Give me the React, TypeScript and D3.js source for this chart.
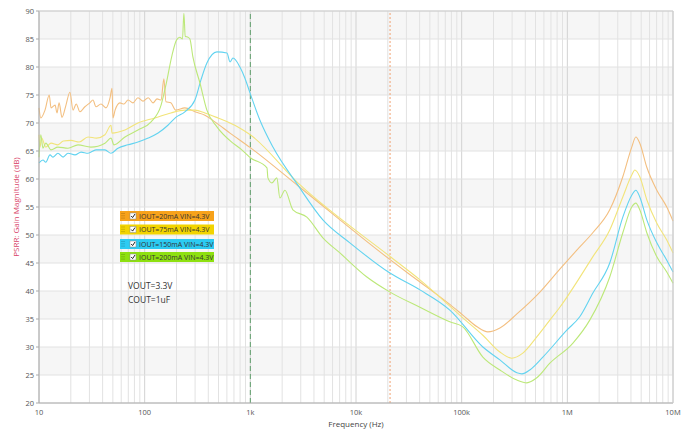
import React, { useEffect, useRef } from "react";
import * as d3 from "d3";

const W = 690, H = 433;
const margin = { left: 39, right: 17, top: 11, bottom: 30 };

const yTicks = [20, 25, 30, 35, 40, 45, 50, 55, 60, 65, 70, 75, 80, 85, 90];
const xTickVals = [10, 100, 1000, 10000, 100000, 1000000, 10000000];
const xTickLabels = ["10", "100", "1k", "10k", "100k", "1M", "10M"];

const seriesNames = ["IOUT=20mA VIN=4.3V", "IOUT=75mA VIN=4.3V", "IOUT=150mA VIN=4.3V", "IOUT=200mA VIN=4.3V"];
const legendColors = ["#f7a21b", "#f2d400", "#2ccbf2", "#8ee010"];
const lineColors = ["#f3bf80", "#f2e47a", "#62d3f0", "#bce879"];
const notes = ["VOUT=3.3V", "COUT=1uF"];

const iout20: [number, number][] = [
  [10, 72.7], [10.4, 70.9], [11.4, 72.3], [12.5, 75], [13, 72.7], [14.2, 73.2], [14.8, 71.8], [15.5, 73.6],
  [16.5, 71], [18, 73.2], [19.6, 75.5], [21, 72.3], [22.5, 73.4], [24.4, 72], [27.2, 72.9], [30.3, 73.6],
  [32.4, 74.1], [34.6, 72.9], [38.6, 73.4], [43, 72.7], [47, 74.5], [49.1, 76.2], [50.1, 70.9], [52.5, 72.3],
  [58.3, 73.6], [63.7, 73.4], [69.6, 74.1], [77.5, 73.6], [86.4, 74.5], [96.5, 73.9], [108, 74.5], [120, 73.6],
  [131, 74.3], [143, 74.1], [152, 77.9], [159, 73.8], [177, 73.6], [197, 72.3], [240, 72.7], [299, 72],
  [372, 71.4], [462, 70.2], [642, 68.2], [1000, 65.6], [2820, 58.8], [21000, 45.6], [37700, 42], [77300, 37.6],
  [102600, 35.7], [140000, 33.6], [177000, 32.7], [230000, 33.4], [333000, 35.9], [550000, 39.8],
  [849000, 43.9], [1230000, 47.3], [1740000, 50.4], [2520000, 54.5], [3350000, 60.4], [4070000, 65.7],
  [4450000, 67.5], [4850000, 66.4], [5650000, 62.1], [7030000, 58], [8730000, 55], [10000000, 52.5],
];

const iout75: [number, number][] = [
  [10, 67.9], [10.2, 65.7], [10.6, 67.3], [11.6, 65.7], [13, 66.4], [15.1, 66.1], [17, 66.8], [20.1, 66.9],
  [24, 66.6], [29.1, 67.5], [35, 67.3], [42.1, 67.9], [48, 69.6], [49.1, 68.2], [65.1, 68.75], [86.4, 70],
  [125, 70.9], [177, 71.8], [240, 72.3], [299, 72.3], [372, 71.8], [494, 70.9], [763, 69.3], [1000, 67.9],
  [2820, 59.3], [21900, 45.9], [40300, 42], [77300, 37.3], [102600, 35.2], [158700, 32.1], [230000, 29.1],
  [298500, 28], [379000, 28.9], [514000, 31.8], [683000, 34.8], [849000, 37.1], [1740000, 46.1],
  [2520000, 50.9], [3350000, 56.8], [4070000, 60.7], [4350000, 61.6], [4850000, 60.4], [5650000, 56.3],
  [7030000, 52.1], [8730000, 49.1], [10000000, 46.8],
];

const iout150: [number, number][] = [
  [10, 62.9], [10.9, 63.4], [11.6, 63], [12.7, 64.3], [13.6, 63.9], [15.1, 64.6], [16.9, 63.9], [18.8, 64.6],
  [21.9, 64.3], [25, 64.8], [29.1, 64.6], [34.6, 65.2], [42.1, 65.2], [48, 64.6], [55.9, 65.5], [69.6, 66.1],
  [86.4, 66.6], [108, 67.3], [134, 68.2], [166, 69.6], [197, 71], [240, 72], [299, 74.1], [341, 77.7],
  [388, 80.7], [483, 82.7], [601, 82.5], [642, 80.9], [685, 81.6], [797, 80], [889, 78], [1000, 75.2],
  [1233, 70.5], [1637, 65.7], [2820, 58.9], [4860, 52.7], [8750, 48.6], [20940, 43.2], [40270, 40.2],
  [77270, 36.6], [158700, 30], [230000, 27.7], [333000, 25.4], [371500, 25.2], [441000, 25.9], [587000, 28.2],
  [989000, 33], [1310000, 35.4], [1740000, 39.6], [2520000, 45], [3350000, 53.2], [4070000, 57.1],
  [4450000, 58], [4850000, 56.8], [5650000, 52.7], [7030000, 48.6], [8730000, 45.5], [10000000, 43.4],
];

const iout200: [number, number][] = [
  [10, 63.9], [10.4, 67.9], [10.9, 65.5], [11.6, 66.4], [13, 65.2], [15.1, 65.7], [18.8, 65.5], [23.4, 66.1],
  [31, 65.7], [42.1, 66.4], [48, 67.3], [51.2, 66.1], [65.1, 67.5], [86.4, 68.75], [115, 70.2], [143, 73.2],
  [159, 76.8], [181, 82], [200, 84.8], [215, 85.3], [228, 85], [235, 89.6], [242, 85.5], [258, 85.3], [268, 85],
  [286, 81.8], [334, 77.1], [388, 72.3], [483, 69.3], [685, 66.4], [797, 65.5], [1000, 63.8], [1437, 62],
  [1467, 60.2], [1600, 59.3], [1783, 60.2], [1905, 56.6], [2125, 58], [2528, 54.5], [3428, 53.2], [4860, 49.5],
  [7040, 46.8], [12680, 42.5], [21000, 39.8], [40270, 37.1], [77270, 34.5], [102600, 33.6], [158700, 28.2],
  [230000, 25.9], [333000, 24.1], [414000, 23.6], [514000, 24.5], [683000, 27.1], [1130000, 30.7],
  [1630000, 34.8], [2520000, 42.5], [3350000, 50.4], [4070000, 55], [4450000, 55.7], [4850000, 54.5],
  [5650000, 50.4], [7030000, 46.1], [8730000, 43.4], [10000000, 41.4],
];

const allSeries = [iout20, iout75, iout150, iout200];
const markerGreen = 1000;
const markerOrange = 21000;

export default function App() {
  const ref = useRef<SVGSVGElement>(null);
  useEffect(() => {
    const svg = d3.select(ref.current);
    svg.selectAll("*").remove();
    const x = d3.scaleLog().domain([10, 1e7]).range([margin.left, W - margin.right]);
    const y = d3.scaleLinear().domain([20, 90]).range([H - margin.bottom, margin.top]);
    const font = "'Open Sans', 'Noto Sans', sans-serif";

    const g = svg.append("g");
    for (let v = 25; v < 90; v += 10) {
      g.append("rect").attr("x", x(10)).attr("width", x(1e7) - x(10))
        .attr("y", y(v + 5)).attr("height", y(v) - y(v + 5)).attr("fill", "#f6f6f6");
    }
    const minor: number[] = [];
    for (let e = 1; e < 7; e++) for (let m = 2; m <= 9; m++) minor.push(m * Math.pow(10, e));
    g.selectAll(".vmin").data(minor).enter().append("line")
      .attr("x1", (d) => x(d)).attr("x2", (d) => x(d)).attr("y1", y(20)).attr("y2", y(90))
      .attr("stroke", "#e2e2e2").attr("stroke-width", 1);
    g.selectAll(".vmaj").data(xTickVals).enter().append("line")
      .attr("x1", (d) => x(d)).attr("x2", (d) => x(d)).attr("y1", y(20)).attr("y2", y(90))
      .attr("stroke", "#d2d2d2").attr("stroke-width", 1);
    g.selectAll(".h").data(yTicks).enter().append("line")
      .attr("x1", x(10)).attr("x2", x(1e7)).attr("y1", (d) => y(d)).attr("y2", (d) => y(d))
      .attr("stroke", "#e2e2e2");

    g.append("line").attr("x1", x(markerGreen)).attr("x2", x(markerGreen)).attr("y1", y(20)).attr("y2", y(90))
      .attr("stroke", "#5e9e6a").attr("stroke-dasharray", "5,3").attr("stroke-width", 1);
    g.append("line").attr("x1", x(markerOrange)).attr("x2", x(markerOrange)).attr("y1", y(20)).attr("y2", y(90))
      .attr("stroke", "#f0a070").attr("stroke-dasharray", "2,2").attr("stroke-width", 1);

    const line = d3.line<[number, number]>().x((d) => x(d[0])).y((d) => y(d[1])).curve(d3.curveMonotoneX);
    allSeries.forEach((s, i) => {
      svg.append("path").attr("d", line(s) as string).attr("fill", "none")
        .attr("stroke", lineColors[i]).attr("stroke-width", 1.1);
    });

    svg.append("line").attr("x1", x(10)).attr("x2", x(10)).attr("y1", y(20)).attr("y2", y(90)).attr("stroke", "#aaa");
    svg.append("line").attr("x1", x(10)).attr("x2", x(1e7)).attr("y1", y(20)).attr("y2", y(20)).attr("stroke", "#aaa");
    svg.append("line").attr("x1", x(10)).attr("x2", x(1e7)).attr("y1", y(90)).attr("y2", y(90)).attr("stroke", "#ccc");
    svg.append("line").attr("x1", x(1e7)).attr("x2", x(1e7)).attr("y1", y(20)).attr("y2", y(90)).attr("stroke", "#ccc");

    yTicks.forEach((v) => {
      svg.append("line").attr("x1", x(10) - 3).attr("x2", x(10)).attr("y1", y(v)).attr("y2", y(v)).attr("stroke", "#aaa");
      svg.append("text").attr("x", x(10) - 5).attr("y", y(v) + 2.5).attr("text-anchor", "end")
        .attr("font-size", 7.5).attr("font-family", font).attr("fill", "#555").text(String(v));
    });
    xTickVals.forEach((v, i) => {
      svg.append("text").attr("x", x(v)).attr("y", y(20) + 12).attr("text-anchor", "middle")
        .attr("font-size", 7.5).attr("font-family", font).attr("fill", "#555").text(xTickLabels[i]);
    });
    svg.append("text").attr("x", (x(10) + x(1e7)) / 2).attr("y", 427).attr("text-anchor", "middle")
      .attr("font-size", 8).attr("font-family", font).attr("fill", "#444").text("Frequency (Hz)");
    svg.append("text").attr("transform", `translate(19,${(y(20) + y(90)) / 2}) rotate(-90)`)
      .attr("text-anchor", "middle").attr("font-size", 8).attr("font-family", font).attr("fill", "#d9446a")
      .text("PSRR: Gain Magnitude (dB)");

    const lx = 120, lw = 94, lh = 10;
    const lys = [211, 224.5, 239, 252];
    seriesNames.forEach((name, i) => {
      const ly = lys[i];
      const lg = svg.append("g");
      lg.append("rect").attr("x", lx).attr("y", ly).attr("width", lw).attr("height", lh).attr("fill", legendColors[i]);
      for (let r = 0; r < 3; r++) for (let c = 0; c < 2; c++) {
        lg.append("rect").attr("x", lx + 1.5 + c * 2).attr("y", ly + 2 + r * 2.3).attr("width", 1).attr("height", 1)
          .attr("fill", "rgba(0,0,0,0.3)");
      }
      lg.append("rect").attr("x", lx + 10).attr("y", ly + 2).attr("width", 6).attr("height", 6)
        .attr("fill", "#fff").attr("stroke", "#888").attr("stroke-width", 0.5);
      lg.append("path").attr("d", `M${lx + 11.2},${ly + 5} L${lx + 12.6},${ly + 6.6} L${lx + 15},${ly + 3}`)
        .attr("fill", "none").attr("stroke", "#222").attr("stroke-width", 1);
      lg.append("text").attr("x", lx + 19).attr("y", ly + 7.6).attr("font-size", 7).attr("font-family", font)
        .attr("fill", "#333").text(name);
    });
    notes.forEach((t, i) => {
      svg.append("text").attr("x", 128).attr("y", 289 + i * 13.5).attr("font-size", 8.5).attr("font-family", font)
        .attr("fill", "#333").text(t);
    });
  }, []);
  return (
    <svg ref={ref} width={W} height={H} style={{ position: "absolute", left: 0, top: 0, display: "block", background: "#fff" }} />
  );
}
